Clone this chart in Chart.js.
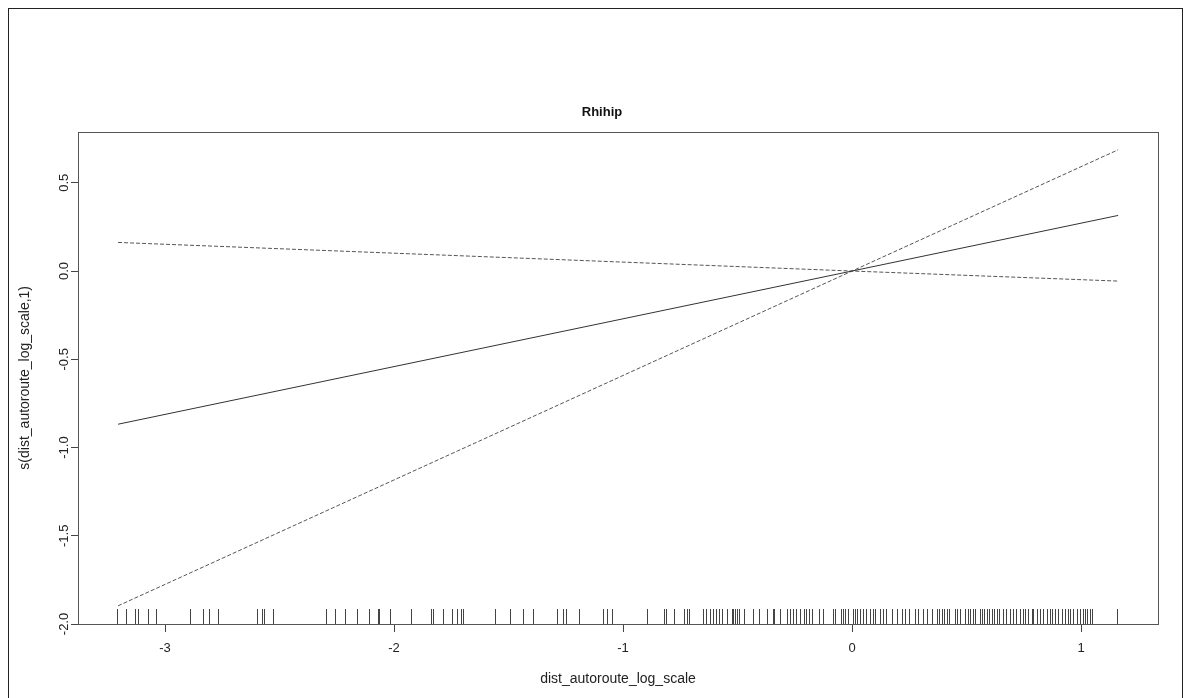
<!DOCTYPE html>
<html>
<head>
<meta charset="utf-8">
<title>Rhihip</title>
<script src="https://cdn.jsdelivr.net/npm/chart.js@4.4.1/dist/chart.umd.min.js"></script>
<style>
  html, body { margin: 0; padding: 0; background: #fff; }
  #wrap { position: relative; width: 1187px; height: 698px; overflow: hidden; }
  #frame { position: absolute; left: 8px; top: 8px; width: 1175px; height: 700px; border: 1px solid #222; box-sizing: border-box; pointer-events: none; }
</style>
</head>
<body>
<div id="wrap">
  <canvas id="gamPlot" width="1187" height="698"></canvas>
  <div id="frame"></div>
</div>
<script>
// smooth term for dist_autoroute_log_scale, fit +/- 2 se
const xVals = [-3.205, 0, 1.162];
const fitVals = [-0.868, 0, 0.315];
const upperVals = [0.162, 0, 0.687];
const lowerVals = [-1.897, 0, -0.057];

const xTicks = [-3, -2, -1, 0, 1];
const yTicks = [-2.0, -1.5, -1.0, -0.5, 0.0, 0.5];

// rug of observed x values
const rugVals = [
  -3.208, -3.170, -3.131, -3.119, -3.073, -3.041, -2.891, -2.835, -2.808, -2.769,
  -2.597, -2.578, -2.568, -2.530, -2.297, -2.258, -2.214, -2.163, -2.108, -2.069,
  -2.066, -2.017, -1.927, -1.838, -1.830, -1.785, -1.748, -1.724, -1.707, -1.700,
  -1.559, -1.493, -1.438, -1.392, -1.287, -1.261, -1.250, -1.192, -1.086, -1.071,
  -1.047, -0.894, -0.820, -0.814, -0.777, -0.734, -0.722, -0.710,
  -0.652, -0.638, -0.620, -0.608, -0.595, -0.581, -0.569, -0.547, -0.523, -0.518,
  -0.511, -0.501, -0.492, -0.470, -0.431, -0.406, -0.370, -0.346, -0.341, -0.314,
  -0.285, -0.271, -0.256, -0.245, -0.227, -0.208, -0.201, -0.188, -0.176, -0.144,
  -0.128, -0.084, -0.074, -0.049, -0.041, -0.031, -0.016, 0.006, 0.013, 0.021,
  0.035, 0.049, 0.060, 0.079, 0.090, 0.100, 0.122, 0.137, 0.147, 0.173, 0.195,
  0.217, 0.231, 0.250, 0.275, 0.290, 0.311, 0.329, 0.348, 0.370, 0.381,
  0.392, 0.402, 0.414, 0.425, 0.450, 0.460, 0.472, 0.493, 0.505, 0.515,
  0.527, 0.537, 0.559, 0.566, 0.576, 0.588, 0.600, 0.610, 0.621, 0.632,
  0.643, 0.661, 0.672, 0.690, 0.704, 0.716, 0.734, 0.745, 0.755, 0.770,
  0.785, 0.792, 0.807, 0.821, 0.833, 0.850, 0.865, 0.872, 0.886, 0.901,
  0.916, 0.930, 0.945, 0.952, 0.966, 0.981, 0.996, 1.007, 1.017, 1.028,
  1.039, 1.047, 1.159
];

const FONT = '"Liberation Sans", Arial, sans-serif';

function toPoints(ys) {
  return xVals.map((x, i) => ({ x: x, y: ys[i] }));
}

// box round the plot region + rug along the bottom
const boxAndRug = {
  id: 'boxAndRug',
  afterDatasetsDraw(chart) {
    const { ctx, chartArea } = chart;
    const xs = chart.scales.x;
    ctx.save();
    ctx.strokeStyle = '#444';
    ctx.lineWidth = 1;
    ctx.beginPath();
    rugVals.forEach(v => {
      const px = Math.round(xs.getPixelForValue(v)) + 0.5;
      ctx.moveTo(px, chartArea.bottom);
      ctx.lineTo(px, chartArea.bottom - 15);
    });
    ctx.stroke();
    ctx.strokeStyle = '#555';
    ctx.strokeRect(Math.round(chartArea.left) + 0.5, Math.round(chartArea.top) + 0.5,
      Math.round(chartArea.right - chartArea.left), Math.round(chartArea.bottom - chartArea.top));
    ctx.restore();
  }
};

const ctx = document.getElementById('gamPlot');
new Chart(ctx.getContext('2d'), {
  type: 'line',
  data: {
    datasets: [
      { label: 'fit', data: toPoints(fitVals), borderColor: '#333', borderWidth: 1 },
      { label: 'upper', data: toPoints(upperVals), borderColor: '#555', borderWidth: 1, borderDash: [4, 2] },
      { label: 'lower', data: toPoints(lowerVals), borderColor: '#555', borderWidth: 1, borderDash: [4, 2] }
    ]
  },
  options: {
    responsive: false,
    animation: false,
    events: [],
    elements: { point: { radius: 0 }, line: { tension: 0 } },
    // left padding + y width = 78, keeps the title centred where the original has it
    layout: { padding: { left: 46, right: 29, top: 0, bottom: 0 } },
    plugins: {
      legend: { display: false },
      tooltip: { enabled: false },
      title: {
        display: true,
        text: 'Rhihip',
        color: '#111',
        font: { family: FONT, size: 13, weight: 'bold' },
        padding: { top: 105, bottom: 11 }
      }
    },
    scales: {
      x: {
        type: 'linear',
        min: -3.380,
        max: 1.336,
        afterBuildTicks: s => { s.ticks = xTicks.map(v => ({ value: v })); },
        afterFit: s => { s.height = 74; },
        border: { display: false },
        grid: { display: true, drawOnChartArea: false, drawTicks: true, tickLength: 8, tickColor: '#444' },
        ticks: { color: '#222', padding: 9, font: { family: FONT, size: 13 }, callback: v => String(v) },
        title: { display: true, text: 'dist_autoroute_log_scale', color: '#222', font: { family: FONT, size: 14 }, padding: { top: 0, bottom: 10 } }
      },
      y: {
        type: 'linear',
        min: -2.0,
        max: 0.79,
        afterBuildTicks: s => { s.ticks = yTicks.map(v => ({ value: v })); },
        afterFit: s => { s.width = 32; },
        border: { display: false },
        grid: { display: true, drawOnChartArea: false, drawTicks: true, tickLength: 7, tickColor: '#444' },
        ticks: { color: '#222', padding: -5, minRotation: 90, maxRotation: 90, crossAlign: 'center', font: { family: FONT, size: 13 }, callback: v => v.toFixed(1) },
        title: { display: true, text: 's(dist_autoroute_log_scale,1)', color: '#222', font: { family: FONT, size: 14 }, padding: { top: -29, bottom: 0 } }
      }
    }
  },
  plugins: [boxAndRug]
});
</script>
</body>
</html>
